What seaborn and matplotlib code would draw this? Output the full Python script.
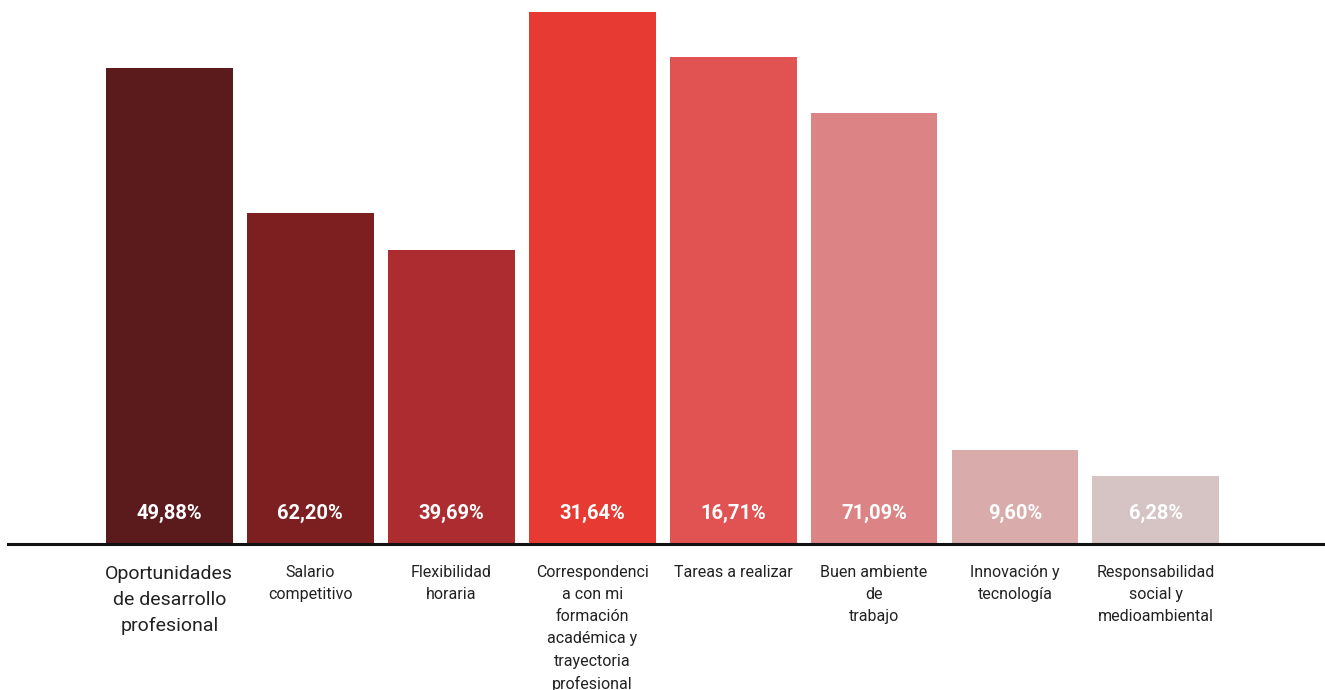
import matplotlib
matplotlib.use("Agg")
import matplotlib.pyplot as plt
import seaborn as sns
import pandas as pd

categories = [
    "Oportunidades\nde desarrollo\nprofesional",
    "Salario\ncompetitivo",
    "Flexibilidad\nhoraria",
    "Correspondenci\na con mi\nformación\nacadémica y\ntrayectoria\nprofesional",
    "Tareas a realizar",
    "Buen ambiente\nde\ntrabajo",
    "Innovación y\ntecnología",
    "Responsabilidad\nsocial y\nmedioambiental",
]
bar_heights = [476, 331, 294, 532, 487, 431, 94, 68]
value_labels = ["49,88%", "62,20%", "39,69%", "31,64%", "16,71%", "71,09%", "9,60%", "6,28%"]
colors = ["#5B1A1B", "#7D1F21", "#AD2C2F", "#E63A33", "#E15252", "#DC8385", "#D9ABAB", "#D6C3C3"]

sns.set_theme(style="white")
plt.rcParams["font.family"] = ["Roboto", "DejaVu Sans"]

df = pd.DataFrame({"cat": categories, "h": bar_heights})

fig = plt.figure(figsize=(13.25, 6.9), dpi=100)
ax = fig.add_axes([8 / 1325, (690 - 544) / 690, 1317 / 1325, 544 / 690])
sns.barplot(data=df, x="cat", y="h", hue="cat", palette=colors, legend=False,
            width=0.9, saturation=1, linewidth=0, edgecolor="none", ax=ax)
ax.set_xlim(-1.145, 8.2)
ax.set_ylim(0, 544)
ax.set_xlabel("")
ax.set_ylabel("")
ax.set_yticks([])
for s in ["top", "right", "left"]:
    ax.spines[s].set_visible(False)
ax.spines["bottom"].set_color("#111111")
ax.spines["bottom"].set_linewidth(2.2)
ax.tick_params(axis="x", length=0, pad=15)
ax.set_xticks(range(len(categories)))
ax.set_xticklabels(categories, fontsize=11.5, color="#222222", linespacing=1.6, va="top")
first = ax.get_xticklabels()[0]
first.set_fontsize(14)
first.set_linespacing(1.58)

for i, lab in enumerate(value_labels):
    ax.text(i, 31, lab, ha="center", va="center", color="white",
            fontsize=14.5, fontweight="bold")

fig.savefig("out.png", dpi=100)
